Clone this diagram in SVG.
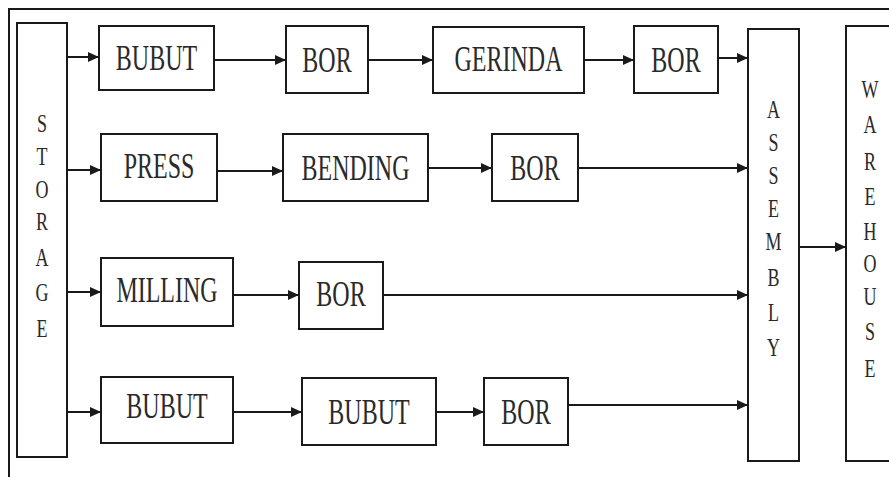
<svg xmlns="http://www.w3.org/2000/svg" width="889" height="477" viewBox="0 0 889 477">
  <style>
    .box { fill: #ffffff; stroke: #1a1a1a; stroke-width: 2; }
    .frame { fill: none; stroke: #1a1a1a; stroke-width: 2; }
    .link { fill: none; stroke: #1a1a1a; stroke-width: 2; }
    .lbl { font-family: 'Liberation Serif', 'DejaVu Serif', serif; font-size: 24px; fill: #2a2a2a; text-anchor: middle; }
    .vl { font-family: 'Liberation Serif', 'DejaVu Serif', serif; font-size: 18px; fill: #2a2a2a; text-anchor: middle; }
  </style>
  <defs>
    <marker id="arrow" markerUnits="userSpaceOnUse" markerWidth="13" markerHeight="13" refX="12" refY="6.5" orient="auto">
      <path d="M1,1.5 L12,6.5 L1,11.5 Z" fill="#1a1a1a"/>
    </marker>
  </defs>

  <rect width="889" height="477" fill="#ffffff"/>

  <!-- outer frame (top and left edges) -->
  <path class="frame" d="M9,477 L9,9 L889,9"/>

  <!-- storage column -->
  <g id="storage">
    <rect class="box" x="17" y="23" width="50" height="434"/>
    <text class="vl" transform="translate(42,132) scale(1,1.35)">S</text>
    <text class="vl" transform="translate(42,165) scale(1,1.35)">T</text>
    <text class="vl" transform="translate(42,198) scale(1,1.35)">O</text>
    <text class="vl" transform="translate(42,230) scale(1,1.35)">R</text>
    <text class="vl" transform="translate(42,266) scale(1,1.35)">A</text>
    <text class="vl" transform="translate(42,301) scale(1,1.35)">G</text>
    <text class="vl" transform="translate(42,337) scale(1,1.35)">E</text>
  </g>

  <!-- row 1 -->
  <g id="bubut1">
    <rect class="box" x="99" y="26" width="115" height="64"/>
    <text class="lbl" transform="translate(156.5,70) scale(1,1.45)">BUBUT</text>
  </g>
  <g id="bor1">
    <rect class="box" x="286" y="26" width="82" height="67"/>
    <text class="lbl" transform="translate(327,72) scale(1,1.45)">BOR</text>
  </g>
  <g id="gerinda">
    <rect class="box" x="433" y="27" width="151" height="66"/>
    <text class="lbl" transform="translate(508.5,71) scale(1,1.45)">GERINDA</text>
  </g>
  <g id="bor2">
    <rect class="box" x="634" y="26" width="84" height="67"/>
    <text class="lbl" transform="translate(676,72) scale(1,1.45)">BOR</text>
  </g>

  <!-- row 2 -->
  <g id="press">
    <rect class="box" x="101" y="134" width="116" height="67"/>
    <text class="lbl" transform="translate(159,178) scale(1,1.45)">PRESS</text>
  </g>
  <g id="bending">
    <rect class="box" x="283" y="134" width="145" height="67"/>
    <text class="lbl" transform="translate(355.5,180) scale(1,1.45)">BENDING</text>
  </g>
  <g id="bor3">
    <rect class="box" x="492" y="134" width="86" height="67"/>
    <text class="lbl" transform="translate(535,180) scale(1,1.45)">BOR</text>
  </g>

  <!-- row 3 -->
  <g id="milling">
    <rect class="box" x="101" y="258" width="132" height="68"/>
    <text class="lbl" transform="translate(167,302) scale(1,1.45)">MILLING</text>
  </g>
  <g id="bor4">
    <rect class="box" x="299" y="262" width="84" height="67"/>
    <text class="lbl" transform="translate(341,306) scale(1,1.45)">BOR</text>
  </g>

  <!-- row 4 -->
  <g id="bubut2">
    <rect class="box" x="101" y="377" width="132" height="66"/>
    <text class="lbl" transform="translate(167,418) scale(1,1.45)">BUBUT</text>
  </g>
  <g id="bubut3">
    <rect class="box" x="302" y="378" width="134" height="67"/>
    <text class="lbl" transform="translate(369,424) scale(1,1.45)">BUBUT</text>
  </g>
  <g id="bor5">
    <rect class="box" x="484" y="378" width="84" height="67"/>
    <text class="lbl" transform="translate(526,424) scale(1,1.45)">BOR</text>
  </g>

  <!-- assembly column -->
  <g id="assembly">
    <rect class="box" x="748" y="29" width="51" height="432"/>
    <text class="vl" transform="translate(773.5,118) scale(1,1.35)">A</text>
    <text class="vl" transform="translate(773.5,151) scale(1,1.35)">S</text>
    <text class="vl" transform="translate(773.5,184) scale(1,1.35)">S</text>
    <text class="vl" transform="translate(773.5,217) scale(1,1.35)">E</text>
    <text class="vl" transform="translate(773.5,250) scale(1,1.35)">M</text>
    <text class="vl" transform="translate(773.5,286) scale(1,1.35)">B</text>
    <text class="vl" transform="translate(773.5,321) scale(1,1.35)">L</text>
    <text class="vl" transform="translate(773.5,356) scale(1,1.35)">Y</text>
  </g>

  <!-- warehouse column -->
  <g id="warehouse">
    <rect class="box" x="846" y="26" width="60" height="435"/>
    <text class="vl" transform="translate(870,98) scale(1,1.35)">W</text>
    <text class="vl" transform="translate(870,133) scale(1,1.35)">A</text>
    <text class="vl" transform="translate(870,170) scale(1,1.35)">R</text>
    <text class="vl" transform="translate(870,205) scale(1,1.35)">E</text>
    <text class="vl" transform="translate(870,240) scale(1,1.35)">H</text>
    <text class="vl" transform="translate(870,272) scale(1,1.35)">O</text>
    <text class="vl" transform="translate(870,305) scale(1,1.35)">U</text>
    <text class="vl" transform="translate(870,340) scale(1,1.35)">S</text>
    <text class="vl" transform="translate(870,377) scale(1,1.35)">E</text>
  </g>

  <!-- connectors -->
  <g id="connectors">
    <line class="link" x1="67" y1="57" x2="99" y2="57" marker-end="url(#arrow)"/>
    <line class="link" x1="214" y1="60" x2="286" y2="60" marker-end="url(#arrow)"/>
    <line class="link" x1="368" y1="60" x2="433" y2="60" marker-end="url(#arrow)"/>
    <line class="link" x1="584" y1="60" x2="634" y2="60" marker-end="url(#arrow)"/>
    <line class="link" x1="718" y1="58" x2="748" y2="58" marker-end="url(#arrow)"/>

    <line class="link" x1="67" y1="170" x2="101" y2="170" marker-end="url(#arrow)"/>
    <line class="link" x1="217" y1="171" x2="283" y2="171" marker-end="url(#arrow)"/>
    <line class="link" x1="428" y1="168" x2="492" y2="168" marker-end="url(#arrow)"/>
    <line class="link" x1="578" y1="168" x2="748" y2="168" marker-end="url(#arrow)"/>

    <line class="link" x1="67" y1="292" x2="101" y2="292" marker-end="url(#arrow)"/>
    <line class="link" x1="233" y1="295" x2="299" y2="295" marker-end="url(#arrow)"/>
    <line class="link" x1="383" y1="295" x2="748" y2="295" marker-end="url(#arrow)"/>

    <line class="link" x1="67" y1="412" x2="101" y2="412" marker-end="url(#arrow)"/>
    <line class="link" x1="233" y1="412" x2="302" y2="412" marker-end="url(#arrow)"/>
    <line class="link" x1="436" y1="412" x2="484" y2="412" marker-end="url(#arrow)"/>
    <line class="link" x1="568" y1="405" x2="748" y2="405" marker-end="url(#arrow)"/>

    <line class="link" x1="799" y1="247" x2="846" y2="247" marker-end="url(#arrow)"/>
  </g>
</svg>
